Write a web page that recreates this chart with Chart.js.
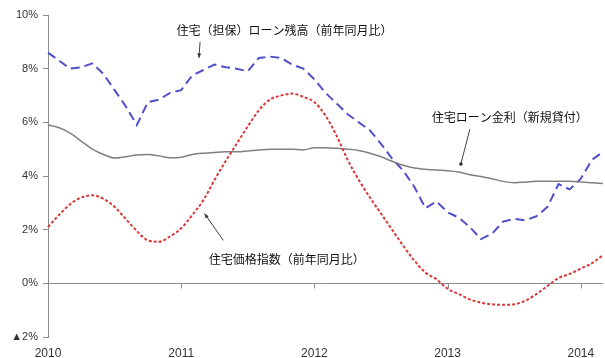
<!DOCTYPE html>
<html><head><meta charset="utf-8">
<script src="https://cdn.jsdelivr.net/npm/chart.js@4.4.1/dist/chart.umd.min.js"></script>
<style>html,body{margin:0;padding:0;background:#fff;}#wrap{width:605px;height:358px;}</style>
</head><body><div id="wrap"><canvas id="c" width="605" height="358"></canvas></div>
<script>
// Months Jan 2010 .. Mar 2014
const years = [2010, 2011, 2012, 2013, 2014];
const months = [];
for (let y = 2010; y <= 2014; y++) for (let m = 1; m <= 12; m++) { if (y === 2014 && m > 3) break; months.push(y + '/' + m); }

const loanBalance = [8.6,8.3,8.0,8.05,8.2,7.8,7.2,6.6,5.9,6.75,6.85,7.1,7.2,7.75,7.95,8.15,8.05,8.0,7.9,8.4,8.45,8.4,8.15,8.0,7.6,7.1,6.7,6.3,6.0,5.7,5.2,4.65,4.2,3.6,2.8,3.05,2.65,2.45,2.1,1.65,1.85,2.3,2.4,2.35,2.5,2.85,3.7,3.5,3.9,4.6,4.9];
const loanRate = [5.9,5.8,5.6,5.3,5.0,4.8,4.67,4.72,4.78,4.8,4.75,4.68,4.7,4.8,4.85,4.88,4.9,4.9,4.93,4.97,5.0,5.0,5.0,4.97,5.05,5.05,5.03,5.0,4.95,4.85,4.72,4.55,4.4,4.3,4.25,4.22,4.2,4.15,4.05,3.98,3.9,3.8,3.75,3.77,3.8,3.8,3.8,3.8,3.78,3.75,3.72];
const priceIndex = [2.1,2.55,2.95,3.2,3.28,3.15,2.85,2.4,1.95,1.6,1.55,1.75,2.05,2.55,3.1,3.85,4.55,5.2,5.85,6.45,6.85,7.0,7.07,6.95,6.75,6.25,5.5,4.6,3.85,3.2,2.6,2.0,1.4,0.85,0.4,0.15,-0.2,-0.4,-0.6,-0.72,-0.78,-0.8,-0.78,-0.65,-0.4,-0.1,0.2,0.35,0.55,0.75,1.05];
const yTicks = [-2, 0, 2, 4, 6, 8, 10];
const yTickLabels = ['▲2%', '0%', '2%', '4%', '6%', '8%', '10%'];

// annotations anchored in data space (month index, percent)
const notes = [
  {text: '住宅（担保）ローン残高（前年同月比）', at: [21.3, 9.44], from: [13.7, 9.0], to: [13.6, 8.4], head: 'arrow'},
  {text: '住宅ローン金利（新規貸付）', at: [41.6, 6.19], from: [38.0, 5.74], to: [37.2, 4.45], head: 'dot'},
  {text: '住宅価格指数（前年同月比）', at: [21.5, 0.89], from: [15.8, 1.6], to: [14.1, 2.6], head: 'arrow'}
];

const axisColor = '#8c8c8c';
const zeroLine = {
  id: 'zeroLine',
  beforeDatasetsDraw(chart) {
    const {ctx, chartArea, scales: {x, y}} = chart;
    const y0 = Math.round(y.getPixelForValue(0)) + 0.5;
    ctx.save();
    ctx.strokeStyle = axisColor; ctx.lineWidth = 1;
    ctx.beginPath(); ctx.moveTo(chartArea.left, y0); ctx.lineTo(chartArea.right, y0);
    months.forEach((m, i) => {
      if (m.endsWith('/1')) { const px = Math.round(x.getPixelForValue(i)) + 0.5; ctx.moveTo(px, y0); ctx.lineTo(px, y0 + 5); }
    });
    ctx.stroke(); ctx.restore();
  }
};
const annot = {
  id: 'annot',
  afterDatasetsDraw(chart) {
    const {ctx, scales: {x, y}} = chart;
    const P = (p) => [x.getPixelForValue(p[0]), y.getPixelForValue(p[1])];
    ctx.save();
    ctx.font = '12px "Noto Sans CJK JP"';
    ctx.textAlign = 'center'; ctx.textBaseline = 'middle';
    notes.forEach(n => {
      const [tx, ty] = P(n.at);
      ctx.fillStyle = '#111';
      ctx.fillText(n.text, tx, ty);
      const [x1, y1] = P(n.from), [x2, y2] = P(n.to);
      ctx.strokeStyle = '#444'; ctx.lineWidth = 1;
      ctx.beginPath(); ctx.moveTo(x1, y1); ctx.lineTo(x2, y2); ctx.stroke();
      ctx.fillStyle = '#333';
      if (n.head === 'dot') { ctx.beginPath(); ctx.arc(x2, y2, 1.8, 0, Math.PI * 2); ctx.fill(); }
      else {
        const a = Math.atan2(y2 - y1, x2 - x1), L = 5;
        ctx.beginPath(); ctx.moveTo(x2, y2);
        ctx.lineTo(x2 - L * Math.cos(a - 0.4), y2 - L * Math.sin(a - 0.4));
        ctx.lineTo(x2 - L * Math.cos(a + 0.4), y2 - L * Math.sin(a + 0.4));
        ctx.closePath(); ctx.fill();
      }
    });
    ctx.restore();
  }
};
const whiteBg = {id: 'bg', beforeDraw(c) { c.ctx.save(); c.ctx.fillStyle = '#fff'; c.ctx.fillRect(0, 0, c.width, c.height); c.ctx.restore(); }};

new Chart(document.getElementById('c'), {
  type: 'line',
  data: {
    labels: months,
    datasets: [
      {label: '住宅価格指数', data: priceIndex, borderColor: '#d83a3a', borderWidth: 2, borderDash: [3, 2], pointRadius: 0, cubicInterpolationMode: 'monotone', fill: false},
      {label: '住宅ローン金利', data: loanRate, borderColor: '#808080', borderWidth: 1.5, pointRadius: 0, cubicInterpolationMode: 'monotone', fill: false},
      {label: '住宅ローン残高', data: loanBalance, borderColor: '#4f4fcc', borderWidth: 2, borderDash: [9, 5], pointRadius: 0, tension: 0, fill: false}
    ]
  },
  options: {
    responsive: false, animation: false, devicePixelRatio: 1,
    layout: {padding: {top: 15, right: 2, left: 0, bottom: 0}},
    plugins: {legend: {display: false}, tooltip: {enabled: false}},
    scales: {
      x: {
        offset: false,
        grid: {display: false}, border: {display: false},
        afterFit(s) { s.height = 21; },
        ticks: {autoSkip: false, maxRotation: 0, minRotation: 0, padding: 1, color: '#333', font: {family: 'Liberation Sans', size: 12},
          callback(v, i) { const m = months[i]; return m.endsWith('/1') ? m.split('/')[0] : ''; }}
      },
      y: {
        min: -2, max: 10,
        afterBuildTicks(s) { s.ticks = yTicks.map(v => ({value: v})); },
        afterFit(s) { s.width = 48; },
        grid: {drawOnChartArea: false, tickLength: 5, color: axisColor},
        border: {color: axisColor},
        ticks: {padding: 5, color: '#333', font: {family: 'Liberation Sans', size: 11},
          callback(v) { const k = yTicks.indexOf(v); return k >= 0 ? yTickLabels[k] : ''; }}
      }
    }
  },
  plugins: [whiteBg, zeroLine, annot]
});
</script></body></html>
